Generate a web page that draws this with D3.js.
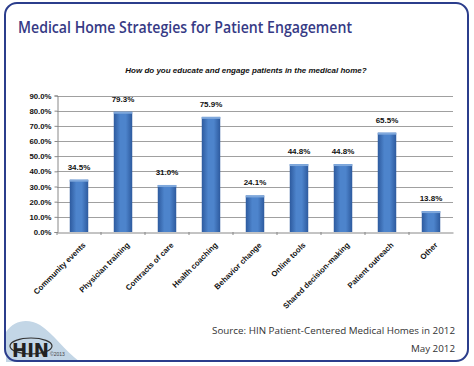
<!DOCTYPE html>
<html>
<head>
<meta charset="utf-8">
<script src="https://cdn.jsdelivr.net/npm/d3@7"></script>
<style>
  body { margin: 0; background: #fff; }
  svg { display: block; }
</style>
</head>
<body>
<div id="chart"></div>
<script>
// data
var categories = ["Community events", "Physician training", "Contracts of care", "Health coaching",
  "Behavior change", "Online tools", "Shared decision-making", "Patient outreach", "Other"];
var values = [34.5, 79.3, 31.0, 75.9, 24.1, 44.8, 44.8, 65.5, 13.8];
var yTicks = [0, 10, 20, 30, 40, 50, 60, 70, 80, 90];

var W = 474, H = 366;
var plot = {left: 57, right: 453, top: 95.5, bottom: 232};

var svg = d3.select("#chart").append("svg")
    .attr("width", W)
    .attr("height", H);

var defs = svg.append("defs");
var grad = defs.append("linearGradient").attr("id", "barGrad")
    .attr("x1", "0").attr("x2", "1").attr("y1", "0").attr("y2", "0");
grad.append("stop").attr("offset", "0%").attr("stop-color", "#2d5a9e");
grad.append("stop").attr("offset", "35%").attr("stop-color", "#4d84cc");
grad.append("stop").attr("offset", "65%").attr("stop-color", "#4d84cc");
grad.append("stop").attr("offset", "100%").attr("stop-color", "#2d5a9e");

// logo hill
svg.append("path")
    .attr("d", "M6,362 L6,332 C14,320 28,318 40,325 C54,334 64,350 80,362 Z")
    .attr("fill", "#c3d6e6");

// frame
svg.append("rect")
    .attr("x", 5).attr("y", 3)
    .attr("width", 463).attr("height", 358)
    .attr("rx", 12).attr("ry", 12)
    .attr("fill", "none")
    .attr("stroke", "#2b3d8c")
    .attr("stroke-width", 2);

svg.append("text")
    .attr("x", 18).attr("y", 33)
    .attr("font-family", "'Open Sans', sans-serif")
    .attr("font-size", 17)
    .attr("font-weight", 600)
    .attr("textLength", 334)
    .attr("lengthAdjust", "spacingAndGlyphs")
    .attr("fill", "#363a85")
    .text("Medical Home Strategies for Patient Engagement");

svg.append("text")
    .attr("x", 246).attr("y", 73)
    .attr("text-anchor", "middle")
    .attr("font-family", "'Liberation Sans', Arial, sans-serif")
    .attr("font-size", 8)
    .attr("font-weight", "bold")
    .attr("font-style", "italic")
    .attr("fill", "#111")
    .text("How do you educate and engage patients in the medical home?");

var x = d3.scaleBand()
    .domain(categories)
    .range([plot.left, plot.right])
    .paddingInner(0.58)
    .paddingOuter(0.29);

var y = d3.scaleLinear()
    .domain([0, 90])
    .range([plot.bottom, plot.top]);

// gridlines
svg.append("g")
    .selectAll("line")
    .data(yTicks.slice(1))
    .enter().append("line")
    .attr("x1", plot.left).attr("x2", plot.right)
    .attr("y1", function(d) { return Math.round(y(d)) + 0.5; })
    .attr("y2", function(d) { return Math.round(y(d)) + 0.5; })
    .attr("stroke", "#a0a0a0")
    .attr("stroke-width", 1);

// y axis
var yAxis = svg.append("g")
    .attr("transform", "translate(" + (plot.left + 0.5) + ",0)")
    .call(d3.axisLeft(y).tickValues(yTicks).tickSize(3)
        .tickFormat(function(d) { return d.toFixed(1) + "%"; }));
yAxis.select(".domain").attr("stroke", "#888");
yAxis.selectAll(".tick line").attr("stroke", "#888");
yAxis.selectAll("text")
    .attr("font-family", "'Liberation Sans', Arial, sans-serif")
    .attr("font-size", 7.8)
    .attr("font-weight", "bold")
    .attr("fill", "#111");

// bars
svg.append("g")
    .selectAll("rect")
    .data(values)
    .enter().append("rect")
    .attr("x", function(d, i) { return x(categories[i]); })
    .attr("width", x.bandwidth())
    .attr("y", function(d) { return y(d); })
    .attr("height", function(d) { return plot.bottom - y(d); })
    .attr("fill", "url(#barGrad)");

// light cap on top of the bars
svg.append("g")
    .selectAll("rect")
    .data(values)
    .enter().append("rect")
    .attr("x", function(d, i) { return x(categories[i]); })
    .attr("width", x.bandwidth())
    .attr("y", function(d) { return y(d); })
    .attr("height", 2)
    .attr("fill", "#7fa8dc");

// value labels
svg.append("g")
    .selectAll("text")
    .data(values)
    .enter().append("text")
    .attr("x", function(d, i) { return x(categories[i]) + x.bandwidth() / 2; })
    .attr("y", function(d) { return y(d) - 10; })
    .attr("text-anchor", "middle")
    .attr("font-family", "'Liberation Sans', Arial, sans-serif")
    .attr("font-size", 8)
    .attr("font-weight", "bold")
    .attr("fill", "#111")
    .text(function(d) { return d.toFixed(1) + "%"; });

// x axis
var xAxis = svg.append("g")
    .attr("transform", "translate(0," + (plot.bottom + 0.5) + ")")
    .call(d3.axisBottom(x).tickSize(0));
xAxis.select(".domain").attr("stroke", "#888");
xAxis.selectAll("text")
    .attr("font-family", "'Liberation Sans', Arial, sans-serif")
    .attr("font-size", 7.8)
    .attr("font-weight", "bold")
    .attr("fill", "#111")
    .attr("text-anchor", "end")
    .attr("dy", "0.35em")
    .attr("transform", "translate(3,9) rotate(-45)");
// small ticks between categories
svg.append("g")
    .selectAll("line")
    .data(categories)
    .enter().append("line")
    .attr("x1", function(d) { return x(d) - x.step() * x.paddingInner() / 2; })
    .attr("x2", function(d) { return x(d) - x.step() * x.paddingInner() / 2; })
    .attr("y1", plot.bottom).attr("y2", plot.bottom + 3)
    .attr("stroke", "#888");

// source
var src = svg.append("g")
    .attr("font-family", "'Open Sans', sans-serif")
    .attr("font-size", 9.8)
    .attr("fill", "#333")
    .attr("text-anchor", "end");
src.append("text").attr("x", 455).attr("y", 334)
    .text("Source: HIN Patient-Centered Medical Homes in 2012");
src.append("text").attr("x", 455).attr("y", 352)
    .text("May 2012");

// logo
svg.append("ellipse")
    .attr("cx", 31).attr("cy", 346).attr("rx", 21).attr("ry", 8)
    .attr("fill", "none").attr("stroke", "#333").attr("stroke-width", 1.2);
svg.append("text")
    .attr("x", 12).attr("y", 357)
    .attr("font-family", "'DejaVu Sans', sans-serif")
    .attr("font-size", 19)
    .attr("font-weight", "bold")
    .attr("textLength", 37).attr("lengthAdjust", "spacingAndGlyphs")
    .attr("fill", "#222")
    .text("HIN");
svg.append("text")
    .attr("x", 50).attr("y", 356)
    .attr("font-family", "'Liberation Sans', Arial, sans-serif")
    .attr("font-size", 5)
    .attr("fill", "#444")
    .text("©2013");
</script>
</body>
</html>
